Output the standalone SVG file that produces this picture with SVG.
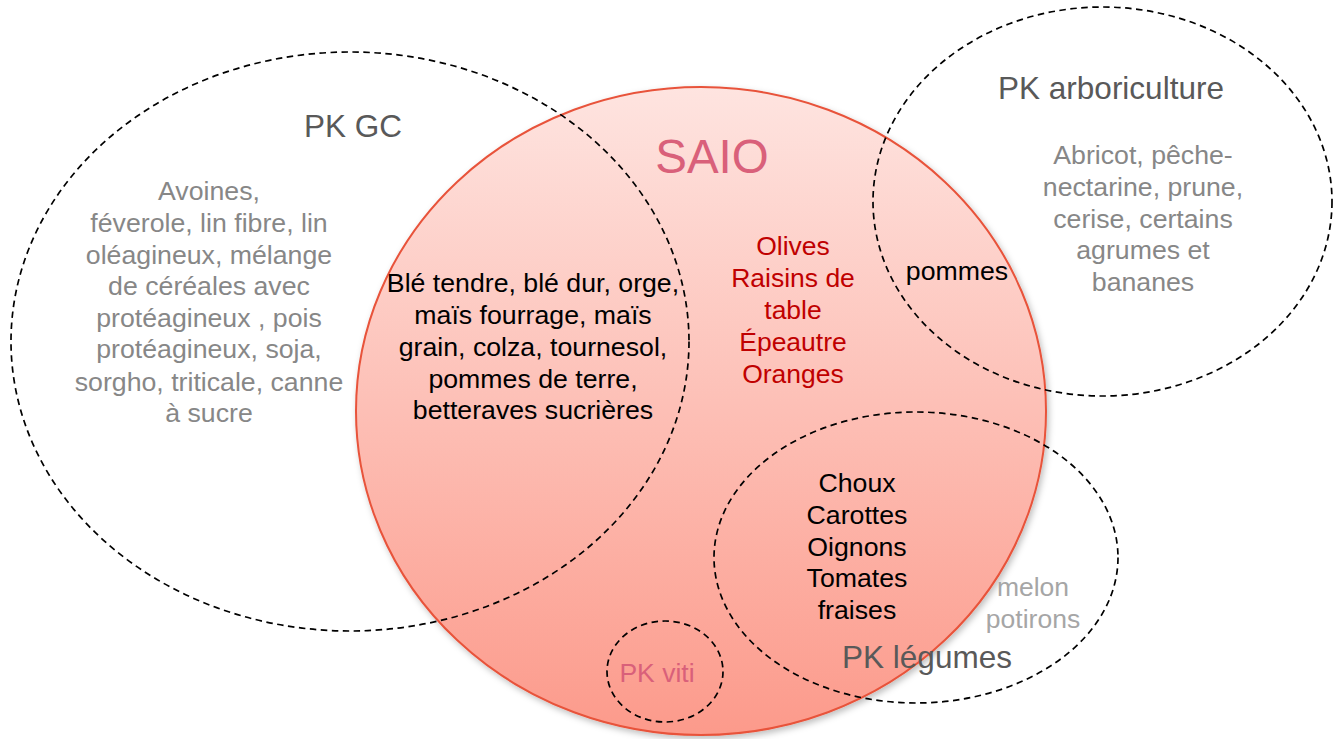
<svg xmlns="http://www.w3.org/2000/svg" width="1336" height="739" viewBox="0 0 1336 739">
<defs>
<linearGradient id="saioGrad" x1="0" y1="0" x2="0" y2="1">
<stop offset="0" stop-color="#fee4e0"/>
<stop offset="1" stop-color="#fc9a8b"/>
</linearGradient>
<filter id="shadow" x="-10%" y="-10%" width="120%" height="120%">
<feDropShadow dx="2" dy="3" stdDeviation="3" flood-color="#000" flood-opacity="0.25"/>
</filter>
<style>
text{font-family:"Liberation Sans",Arial,sans-serif;text-anchor:middle}
.dash{fill:none;stroke:#000;stroke-width:1.7;stroke-dasharray:6.5 4.5}
.title{font-size:31.5px;fill:#595959}
.gray{font-size:26.7px;fill:#878787}
.light{font-size:26.5px;fill:#a6a6a6}
.blk{font-size:26.7px;fill:#000}
.red{font-size:26.5px;fill:#c00000}
.pink{fill:#d9607a}
</style>
</defs>
<rect width="1336" height="739" fill="#fff"/>
<g id="saio">
<ellipse cx="701" cy="411" rx="345" ry="324" fill="url(#saioGrad)" stroke="#e8533a" stroke-width="2" filter="url(#shadow)"/>
<text class="pink" x="712" y="173" font-size="47.5">SAIO</text>
<text class="red" x="793"><tspan x="793" y="255">Olives</tspan><tspan x="793" y="287">Raisins de</tspan><tspan x="793" y="319">table</tspan><tspan x="793" y="351">Épeautre</tspan><tspan x="793" y="383">Oranges</tspan></text>
</g>
<g id="connectors"/>
<g id="pk-gc">
<ellipse class="dash" cx="350" cy="341.5" rx="339" ry="289.5"/>
<text class="title" x="353" y="137">PK GC</text>
<text class="gray"><tspan x="209" y="200">Avoines,</tspan><tspan x="209" y="232">féverole, lin fibre, lin</tspan><tspan x="209" y="264">oléagineux, mélange</tspan><tspan x="209" y="295">de céréales avec</tspan><tspan x="209" y="327">protéagineux , pois</tspan><tspan x="209" y="358">protéagineux, soja,</tspan><tspan x="209" y="391">sorgho, triticale, canne</tspan><tspan x="209" y="422">à sucre</tspan></text>
<text class="blk"><tspan x="533" y="292">Blé tendre, blé dur, orge,</tspan><tspan x="533" y="324">maïs fourrage, maïs</tspan><tspan x="533" y="356">grain, colza, tournesol,</tspan><tspan x="533" y="388">pommes de terre,</tspan><tspan x="533" y="419">betteraves sucrières</tspan></text>
</g>
<g id="pk-arbo">
<ellipse class="dash" cx="1102.5" cy="201.5" rx="229.5" ry="194.5"/>
<text class="title" x="1111" y="99">PK arboriculture</text>
<text class="gray"><tspan x="1143" y="164">Abricot, pêche-</tspan><tspan x="1143" y="196">nectarine, prune,</tspan><tspan x="1143" y="228">cerise, certains</tspan><tspan x="1143" y="259">agrumes et</tspan><tspan x="1143" y="291">bananes</tspan></text>
<text class="blk" x="957" y="280">pommes</text>
</g>
<g id="pk-legumes">
<ellipse class="dash" cx="916" cy="557.5" rx="202" ry="145.5"/>
<text class="blk"><tspan x="857" y="492">Choux</tspan><tspan x="857" y="524">Carottes</tspan><tspan x="857" y="556">Oignons</tspan><tspan x="857" y="587">Tomates</tspan><tspan x="857" y="619">fraises</tspan></text>
<text class="light"><tspan x="1033" y="596">melon</tspan><tspan x="1033" y="628">potirons</tspan></text>
<text class="title" x="927" y="668">PK légumes</text>
</g>
<g id="pk-viti">
<ellipse class="dash" cx="665" cy="671.5" rx="58" ry="50.5"/>
<text class="pink" x="657" y="682" font-size="26.5">PK viti</text>
</g>
</svg>
